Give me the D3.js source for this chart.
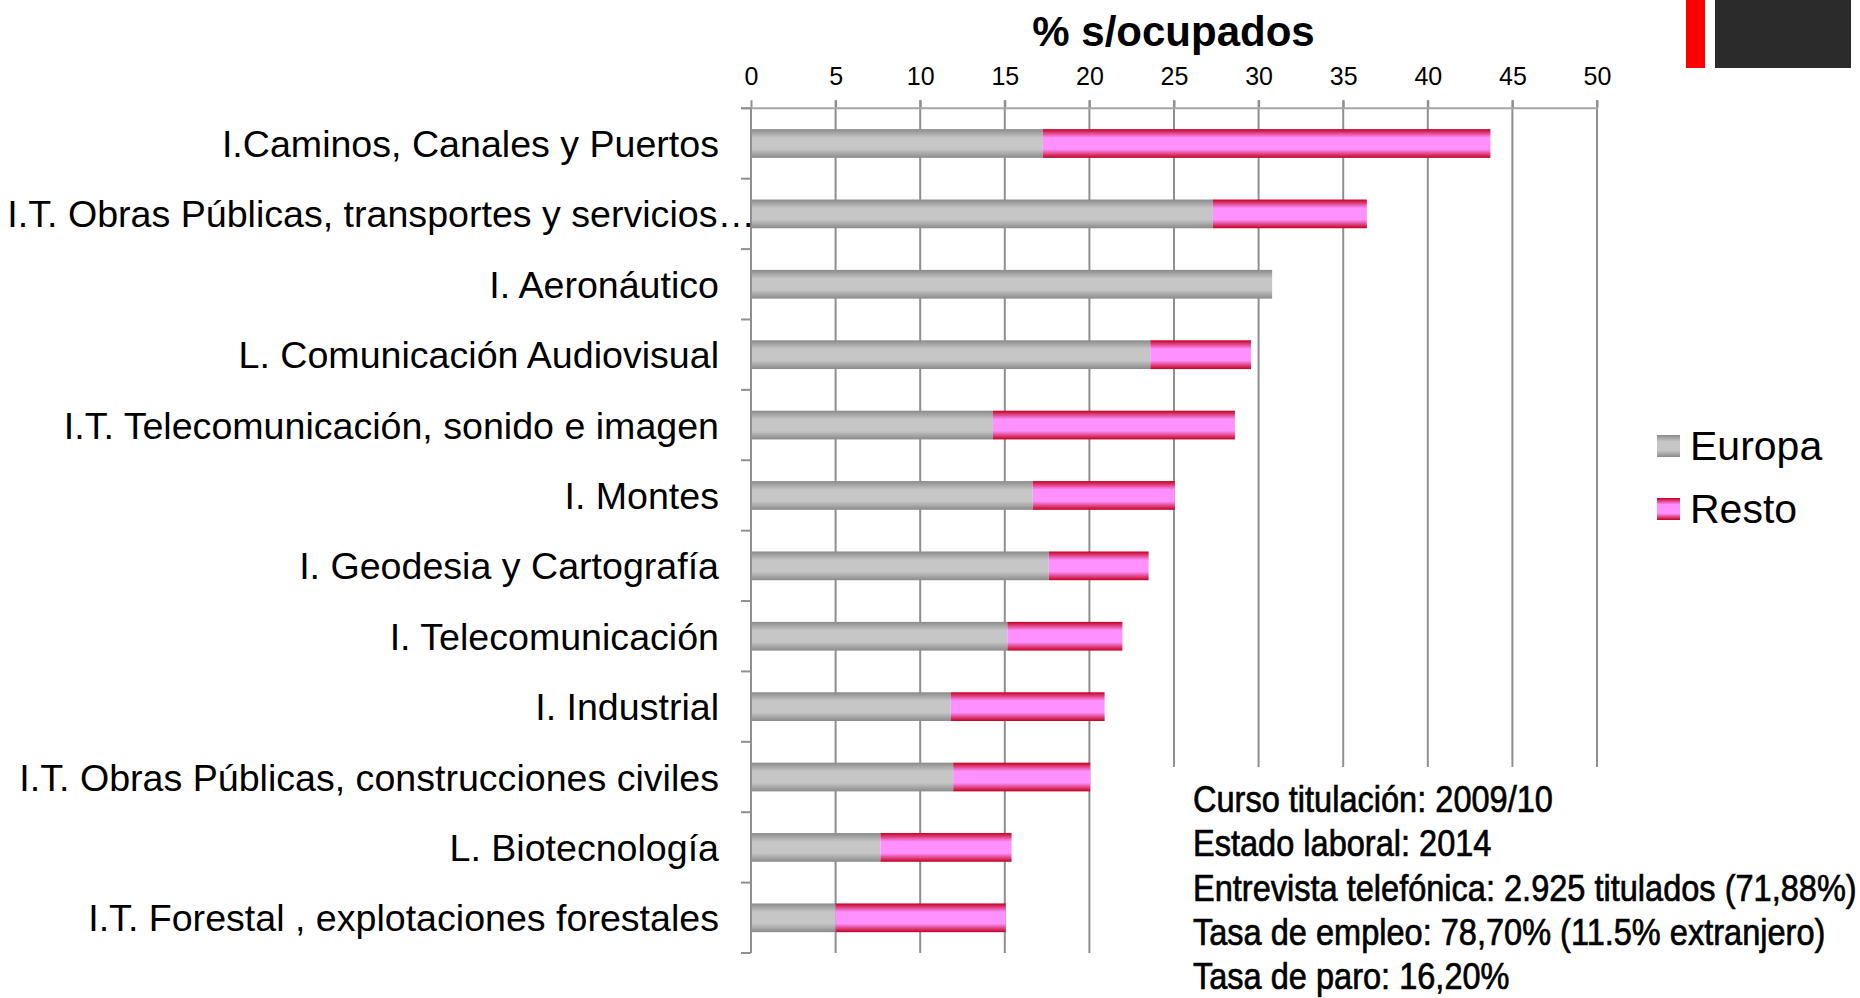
<!DOCTYPE html>
<html>
<head>
<meta charset="utf-8">
<script src="https://cdn.jsdelivr.net/npm/d3@7"></script>
<style>
  html, body { margin: 0; padding: 0; background: #fff; }
  svg { display: block; }
</style>
</head>
<body>
<div id="chart"></div>
<script>
// Data
const categories = [
  "I.Caminos, Canales y Puertos",
  "I.T. Obras Públicas, transportes y servicios…",
  "I. Aeronáutico",
  "L. Comunicación Audiovisual",
  "I.T. Telecomunicación, sonido e imagen",
  "I. Montes",
  "I. Geodesia y Cartografía",
  "I. Telecomunicación",
  "I. Industrial",
  "I.T. Obras Públicas, construcciones civiles",
  "L. Biotecnología",
  "I.T. Forestal , explotaciones forestales"
];
const europa = [17.25, 27.3, 30.8, 23.6, 14.3, 16.65, 17.6, 15.15, 11.8, 11.95, 7.65, 5.0];
const resto  = [26.45, 9.1, 0, 5.95, 14.3, 8.4, 5.9, 6.8, 9.1, 8.1, 7.75, 10.05];
const seriesNames = ["Europa", "Resto"];
const xTicks = [0, 5, 10, 15, 20, 25, 30, 35, 40, 45, 50];
const title = "% s/ocupados";
const notes = [
  "Curso titulación: 2009/10",
  "Estado laboral: 2014",
  "Entrevista telefónica: 2.925 titulados (71,88%)",
  "Tasa de empleo: 78,70% (11.5% extranjero)",
  "Tasa de paro: 16,20%"
];

const width = 1860, height = 998;
const plot = {left: 751, right: 1597, top: 108.3, bottom: 953};
const gridColor = "#8f8f8f";
const sans = "'Liberation Sans', Arial, sans-serif";

const svg = d3.select("#chart").append("svg")
  .attr("width", width)
  .attr("height", height);

// gradients
const defs = svg.append("defs");
function vGrad(id, edge, mid) {
  const g = defs.append("linearGradient").attr("id", id)
    .attr("x1", 0).attr("y1", 0).attr("x2", 0).attr("y2", 1);
  [[0, edge], [0.3, mid], [0.7, mid], [1, edge]].forEach(s => {
    g.append("stop").attr("offset", s[0]).attr("stop-color", s[1]);
  });
}
vGrad("gEuropa", "#8a8a8a", "#c6c6c6");
vGrad("gResto", "#c4001c", "#ff90ff");
const fills = {Europa: "url(#gEuropa)", Resto: "url(#gResto)"};

const x = d3.scaleLinear().domain([0, 50]).range([plot.left, plot.right]);
const y = d3.scaleBand().domain(categories)
  .range([plot.top, plot.bottom])
  .paddingInner(0.592).paddingOuter(0.296);

// vertical gridlines
svg.append("g").selectAll("line")
  .data(xTicks.filter(d => d > 0))
  .join("line")
  .attr("x1", d => x(d)).attr("x2", d => x(d))
  .attr("y1", plot.top - 8).attr("y2", plot.bottom)
  .attr("stroke", gridColor).attr("stroke-width", 2);

// x axis on top
const xAxis = svg.append("g")
  .attr("transform", `translate(0,${plot.top})`)
  .call(d3.axisTop(x).tickValues(xTicks).tickSize(8).tickSizeOuter(0).tickPadding(15));
xAxis.select(".domain").remove();
xAxis.selectAll(".tick line").attr("stroke", gridColor).attr("stroke-width", 2);
xAxis.selectAll(".tick text")
  .attr("fill", "#000")
  .style("font-family", sans)
  .style("font-size", "25px");
svg.append("line")
  .attr("x1", plot.left - 10).attr("x2", plot.right + 1)
  .attr("y1", plot.top).attr("y2", plot.top)
  .attr("stroke", "#a6a6a6").attr("stroke-width", 2);

// stacked bars
const stacked = d3.stack().keys(seriesNames)(
  categories.map((c, i) => ({cat: c, Europa: europa[i], Resto: resto[i]}))
);
svg.append("g").selectAll("g")
  .data(stacked)
  .join("g")
  .attr("fill", d => fills[d.key])
  .selectAll("rect")
  .data(d => d.filter(p => p[1] - p[0] > 0))
  .join("rect")
  .attr("x", d => x(d[0]))
  .attr("y", d => y(d.data.cat))
  .attr("width", d => x(d[1]) - x(d[0]))
  .attr("height", y.bandwidth());

// y axis line and boundary ticks
svg.append("line")
  .attr("x1", plot.left).attr("x2", plot.left)
  .attr("y1", plot.top).attr("y2", plot.bottom)
  .attr("stroke", gridColor).attr("stroke-width", 2);
svg.append("g").selectAll("line")
  .data(d3.range(categories.length + 1))
  .join("line")
  .attr("x1", plot.left - 10).attr("x2", plot.left)
  .attr("y1", i => plot.top + i * y.step())
  .attr("y2", i => plot.top + i * y.step())
  .attr("stroke", gridColor).attr("stroke-width", 2);

// category labels
svg.append("g").selectAll("text")
  .data(categories)
  .join("text")
  .attr("x", d => d.endsWith("…") ? plot.left + 4 : 719)
  .attr("y", d => y(d) + y.bandwidth() / 2)
  .attr("dy", "0.36em")
  .attr("text-anchor", "end")
  .style("font-family", sans)
  .style("font-size", "37.6px")
  .text(d => d);

// title
svg.append("text")
  .attr("x", (1032 + 1315) / 2).attr("y", 46)
  .attr("text-anchor", "middle")
  .style("font-family", sans)
  .style("font-weight", "bold")
  .style("font-size", "42px")
  .text(title);

// legend
const legend = svg.append("g").selectAll("g")
  .data(seriesNames)
  .join("g")
  .attr("transform", (d, i) => `translate(1657,${435 + i * 63})`);
legend.append("rect")
  .attr("width", 23).attr("height", 22)
  .attr("fill", d => fills[d]);
legend.append("text")
  .attr("x", 33).attr("y", 25)
  .style("font-family", sans)
  .style("font-size", "41px")
  .text(d => d);

// notes box (condensed look: squeeze horizontally so the widest line fits)
svg.append("rect")
  .attr("x", 1150).attr("y", 767)
  .attr("width", width - 1150).attr("height", height - 767)
  .attr("fill", "#fff");
const notesG = svg.append("g");
const noteText = notesG.selectAll("text")
  .data(notes)
  .join("text")
  .attr("x", 0)
  .attr("y", (d, i) => 812 + i * 44.3)
  .attr("fill", "#000")
  .attr("stroke", "#000")
  .attr("stroke-width", 0.7)
  .style("font-family", sans)
  .style("font-size", "37px")
  .text(d => d);
const widest = d3.max(noteText.nodes(), n => n.getComputedTextLength());
notesG.attr("transform", `translate(1193,0) scale(${664 / widest},1)`);

// corner marks
svg.append("rect").attr("x", 1686).attr("y", 0).attr("width", 19).attr("height", 68).attr("fill", "#ff0000");
svg.append("rect").attr("x", 1715).attr("y", 0).attr("width", 136).attr("height", 68).attr("fill", "#2b2b2b");
</script>
</body>
</html>
